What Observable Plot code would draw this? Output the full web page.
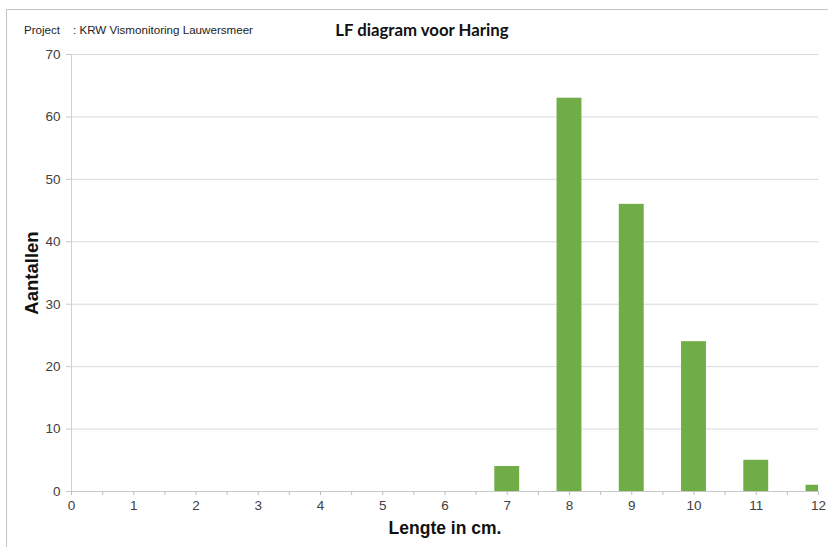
<!DOCTYPE html>
<html>
<head>
<meta charset="utf-8">
<script src="https://cdn.jsdelivr.net/npm/d3@7"></script>
<script src="https://cdn.jsdelivr.net/npm/@observablehq/plot@0.6"></script>
<style>
  html, body { margin: 0; padding: 0; background: #fff; }
  #wrap { position: relative; width: 828px; height: 547px; overflow: hidden; background: #fff; }
  #frame { position: absolute; left: 6px; top: 9px; width: 830px; height: 545px;
           border-top: 1px solid #c4c4c4; border-left: 1px solid #c4c4c4; }
  #project { position: absolute; left: 24px; top: 23px; font: 11.6px "Liberation Sans", Arial, sans-serif; color: #222; white-space: pre; }
  #title { position: absolute; left: 0; width: 844px; top: 19px; text-align: center;
           font: bold 16.8px Lato, "Open Sans", sans-serif; color: #111; }
  #chart { position: absolute; left: 0; top: 0; }
</style>
</head>
<body>
<div id="wrap">
  <div id="frame"></div>
  <div id="chart"></div>
  <div id="project">Project    : KRW Vismonitoring Lauwersmeer</div>
  <div id="title">LF diagram voor Haring</div>
</div>
<script>
// Data
const lengths = [7, 8, 9, 10, 11, 12];
const counts  = [4, 63, 46, 24, 5, 1];
const xTickValues = [0, 1, 2, 3, 4, 5, 6, 7, 8, 9, 10, 11, 12];
const yTickValues = [0, 10, 20, 30, 40, 50, 60, 70];

const data = lengths.map((l, i) => ({len: l, count: counts[i]}));
const halfTicks = d3.range(0, 12.001, 0.5);

const chart = Plot.plot({
  width: 828,
  height: 547,
  marginLeft: 71,
  marginRight: 10,
  marginTop: 54,
  marginBottom: 56,
  style: {fontFamily: "'Liberation Sans', Arial, sans-serif", background: "transparent"},
  x: {domain: [0, 12]},
  y: {domain: [0, 70]},
  marks: [
    Plot.gridY(yTickValues, {stroke: "#d9d9d9", strokeOpacity: 1}),
    Plot.ruleX([0], {stroke: "#d0d0d0"}),
    Plot.rectY(data, {x1: d => d.len - 0.2, x2: d => d.len + 0.2, y: "count", fill: "#70ad47", clip: true}),
    Plot.ruleY([0], {stroke: "#c8c8c8"}),
    Plot.axisX(halfTicks, {
      tickSize: 4, stroke: "#bdbdbd", tickPadding: 5,
      tickFormat: d => Number.isInteger(d) ? String(d) : "",
      fontSize: 13.5, fill: "#404040",
      label: null
    }),
    Plot.axisY(yTickValues, {
      tickSize: 5, stroke: "#c8c8c8", tickPadding: 6,
      fontSize: 13.5, fill: "#404040",
      label: null
    }),
    Plot.text(["Lengte in cm."], {
      frameAnchor: "bottom", dy: 42, fontSize: 17.5, fontWeight: "bold", fill: "#111"
    }),
    Plot.text(["Aantallen"], {
      frameAnchor: "left", textAnchor: "middle", dx: -39, rotate: -90, fontSize: 18.5, fontWeight: "bold", fill: "#111"
    })
  ]
});
document.getElementById("chart").appendChild(chart);
</script>
</body>
</html>
